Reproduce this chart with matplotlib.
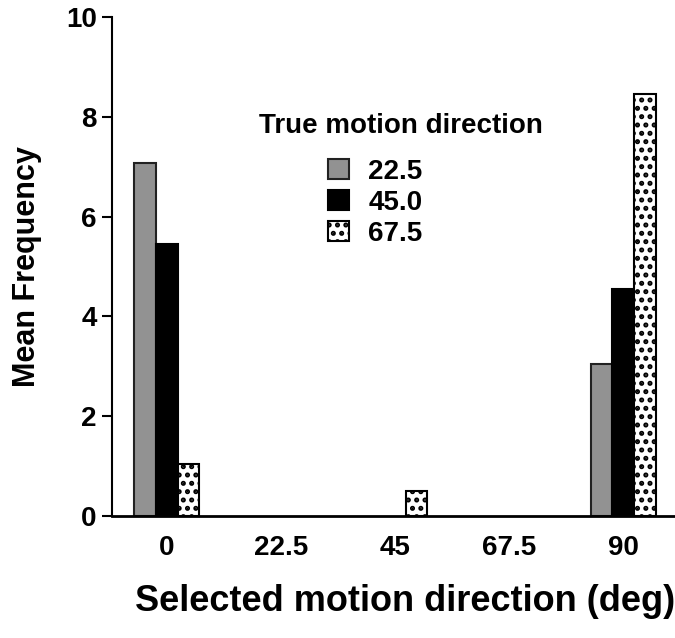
import numpy as np
import matplotlib
matplotlib.use("Agg")
import matplotlib.pyplot as plt

plt.rcParams['font.family'] = ['Liberation Sans', 'DejaVu Sans']
plt.rcParams['font.weight'] = 'bold'
plt.rcParams['hatch.linewidth'] = 2.4

# selected direction categories (x axis)
categories = ["0", "22.5", "45", "67.5", "90"]
# true motion direction series
series_names = ["22.5", "45.0", "67.5"]
freq_225 = [7.07, 0, 0, 0, 3.05]
freq_450 = [5.45, 0, 0, 0, 4.55]
freq_675 = [1.05, 0, 0.5, 0, 8.45]

styles = [dict(facecolor='#929292', edgecolor='#222222', hatch=None),
          dict(facecolor='black', edgecolor='black', hatch=None),
          dict(facecolor='white', edgecolor='black', hatch='..')]

fig = plt.figure(figsize=[6.75, 6.38], dpi=100)
ax = fig.add_axes([112/675, 1-516/638, 1-112/675, (516-17)/638])

x = np.arange(len(categories))
w = 0.19
handles = []
for i, (vals, st) in enumerate(zip([freq_225, freq_450, freq_675], styles)):
    vals = np.array(vals)
    keep = vals > 0
    b = ax.bar(x[keep] + (i-1)*w, vals[keep], width=w, linewidth=1.5, **st)
    handles.append(b)

ax.set_xlim(-0.482, 4.456)
ax.set_ylim(0, 10)
ax.set_xticks(x)
ax.set_xticklabels(categories)
ax.set_yticks([0, 2, 4, 6, 8, 10])
ax.tick_params(axis='x', length=0, pad=14, labelsize=20)
ax.tick_params(axis='y', length=7, width=1.5, pad=4, labelsize=20)
for s in ['top', 'right']:
    ax.spines[s].set_visible(False)
ax.spines['left'].set_linewidth(1.5)
ax.spines['bottom'].set_linewidth(2)

ax.set_xlabel("Selected motion direction (deg)", fontsize=26, fontweight='bold')
ax.set_ylabel("Mean Frequency", fontsize=22, fontweight='bold')
ax.xaxis.set_label_coords(0.52, -0.137)
ax.yaxis.set_label_coords(-0.124, 0.5)

fig.text(401/675, 1-126/638, "True motion direction", ha='center', va='center',
         fontsize=20, fontweight='bold')
ax.legend(handles, series_names, loc='upper left', bbox_to_anchor=(328/675, 1-159/638),
          bbox_transform=fig.transFigure, frameon=False, borderpad=0, borderaxespad=0,
          handlelength=0.75, handleheight=0.75, handletextpad=0.7, labelspacing=0.18,
          prop={'size': 20, 'weight': 'bold'})

plt.savefig("out.png", dpi=100)
